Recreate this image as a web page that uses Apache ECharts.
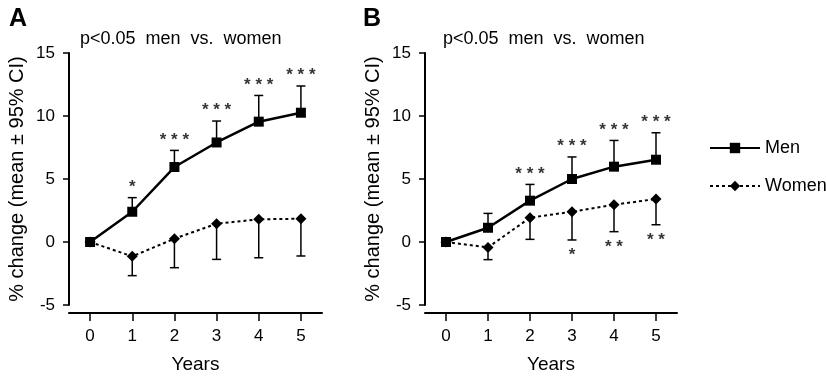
<!DOCTYPE html>
<html>
<head>
<meta charset="utf-8">
<script src="https://cdn.jsdelivr.net/npm/echarts@6/dist/echarts.min.js"></script>
<style>
  html, body { margin: 0; padding: 0; background: #fff; }
  #chart { width: 826px; height: 376px; }
</style>
</head>
<body>
<div id="chart"></div>
<script>
// years since baseline
const years = ['0', '1', '2', '3', '4', '5']

// panel A
const menA = [0, 2.4, 5.95, 7.9, 9.55, 10.26]
const menUpperA = [null, 3.52, 7.27, 9.6, 11.63, 12.38]
const womenA = [0, -1.14, 0.26, 1.45, 1.8, 1.85]
const womenLowerA = [null, -2.67, -2.04, -1.38, -1.25, -1.11]
const sigMenA = ['', '*', '***', '***', '***', '***']

// panel B
const menB = [0, 1.13, 3.28, 5.0, 5.98, 6.53]
const menUpperB = [null, 2.27, 4.57, 6.75, 8.06, 8.67]
const womenB = [0, -0.43, 1.93, 2.4, 2.96, 3.41]
const womenLowerB = [null, -1.4, 0.21, 0.16, 0.82, 1.37]
const sigMenB = ['', '', '***', '***', '***', '***']
const sigWomenB = ['', '', '', '*', '**', '**']

const font = 'Liberation Sans, Arial, Helvetica, sans-serif'
const black = '#000'

function errorData(mean, ci) {
  const out = []
  mean.forEach((m, i) => {
    if (ci[i] != null) out.push([i, m, ci[i]])
  })
  return out
}

function sigData(ci, sig) {
  const out = []
  sig.forEach((s, i) => {
    if (s) out.push({ value: [i, ci[i]], sig: s.split('').join(' ') })
  })
  return out
}

function renderBar(params, api) {
  const p0 = api.coord([api.value(0), api.value(1)])
  const p1 = api.coord([api.value(0), api.value(2)])
  const style = { stroke: black, lineWidth: 1.5 }
  return {
    type: 'group',
    children: [
      { type: 'line', shape: { x1: p0[0], y1: p0[1], x2: p1[0], y2: p1[1] }, style },
      { type: 'line', shape: { x1: p1[0] - 4.5, y1: p1[1], x2: p1[0] + 4.5, y2: p1[1] }, style }
    ]
  }
}

function xAxis(idx) {
  return {
    gridIndex: idx,
    type: 'category',
    data: years,
    boundaryGap: true,
    offset: 8,
    axisLine: { onZero: false, lineStyle: { color: black, width: 2 } },
    axisTick: { show: true, interval: 0, alignWithLabel: true, length: 8, lineStyle: { color: black, width: 1.5 } },
    axisLabel: { fontSize: 17, color: black, margin: 15 },
    name: 'Years',
    nameLocation: 'middle',
    nameGap: 42,
    nameTextStyle: { fontSize: 19, color: black }
  }
}

function yAxis(idx) {
  return {
    gridIndex: idx,
    type: 'value',
    min: -5,
    max: 15,
    interval: 5,
    axisLine: { show: true, lineStyle: { color: black, width: 2 } },
    axisTick: { show: true, length: 6, lineStyle: { color: black, width: 1.5 } },
    splitLine: { show: false },
    axisLabel: { fontSize: 17, color: black, margin: 14 },
    name: '% change (mean ± 95% CI)',
    nameLocation: 'middle',
    nameGap: 42,
    nameTextStyle: { fontSize: 20, color: black }
  }
}

function lineSeries(name, idx, data, dashed) {
  return {
    name,
    type: 'line',
    xAxisIndex: idx,
    yAxisIndex: idx,
    data,
    z: 3,
    symbol: dashed ? 'diamond' : 'rect',
    symbolSize: dashed ? 11 : 10,
    itemStyle: { color: black },
    lineStyle: dashed
      ? { color: black, width: 2, type: [3, 3] }
      : { color: black, width: 2.5 }
  }
}

function barSeries(idx, mean, ci) {
  return {
    type: 'custom',
    xAxisIndex: idx,
    yAxisIndex: idx,
    data: errorData(mean, ci),
    renderItem: renderBar,
    silent: true,
    z: 1
  }
}

function sigSeries(idx, ci, sig, below) {
  return {
    type: 'scatter',
    xAxisIndex: idx,
    yAxisIndex: idx,
    data: sigData(ci, sig),
    symbolSize: 0,
    silent: true,
    label: {
      show: true,
      position: below ? 'bottom' : 'top',
      distance: below ? 7 : 2,
      fontSize: 17,
      fontWeight: 'bold',
      color: black,
      formatter: p => p.data.sig
    }
  }
}

const chart = echarts.init(document.getElementById('chart'))
chart.setOption({
  animation: false,
  textStyle: { fontFamily: font },
  title: [
    { text: 'A', left: 4, top: 2, textStyle: { fontSize: 25, fontWeight: 'bold', color: black } },
    { text: 'B', left: 358, top: 2, textStyle: { fontSize: 25, fontWeight: 'bold', color: black } },
    { text: 'p<0.05  men  vs.  women', left: 75, top: 25, textStyle: { fontSize: 18, fontWeight: 'normal', color: black } },
    { text: 'p<0.05  men  vs.  women', left: 438, top: 25, textStyle: { fontSize: 18, fontWeight: 'normal', color: black } }
  ],
  legend: {
    data: ['Men', 'Women'],
    orient: 'vertical',
    left: 704,
    top: 134,
    itemWidth: 50,
    itemHeight: 13,
    itemGap: 20,
    textStyle: { fontSize: 18, color: black }
  },
  grid: [
    { left: 69, top: 53, width: 253, height: 252, outerBoundsMode: 'none' },
    { left: 425, top: 53, width: 252, height: 252, outerBoundsMode: 'none' }
  ],
  xAxis: [xAxis(0), xAxis(1)],
  yAxis: [yAxis(0), yAxis(1)],
  series: [
    barSeries(0, menA, menUpperA),
    barSeries(0, womenA, womenLowerA),
    lineSeries('Men', 0, menA, false),
    lineSeries('Women', 0, womenA, true),
    sigSeries(0, menUpperA, sigMenA, false),
    barSeries(1, menB, menUpperB),
    barSeries(1, womenB, womenLowerB),
    lineSeries('Men', 1, menB, false),
    lineSeries('Women', 1, womenB, true),
    sigSeries(1, menUpperB, sigMenB, false),
    sigSeries(1, womenLowerB, sigWomenB, true)
  ]
})
</script>
</body>
</html>
